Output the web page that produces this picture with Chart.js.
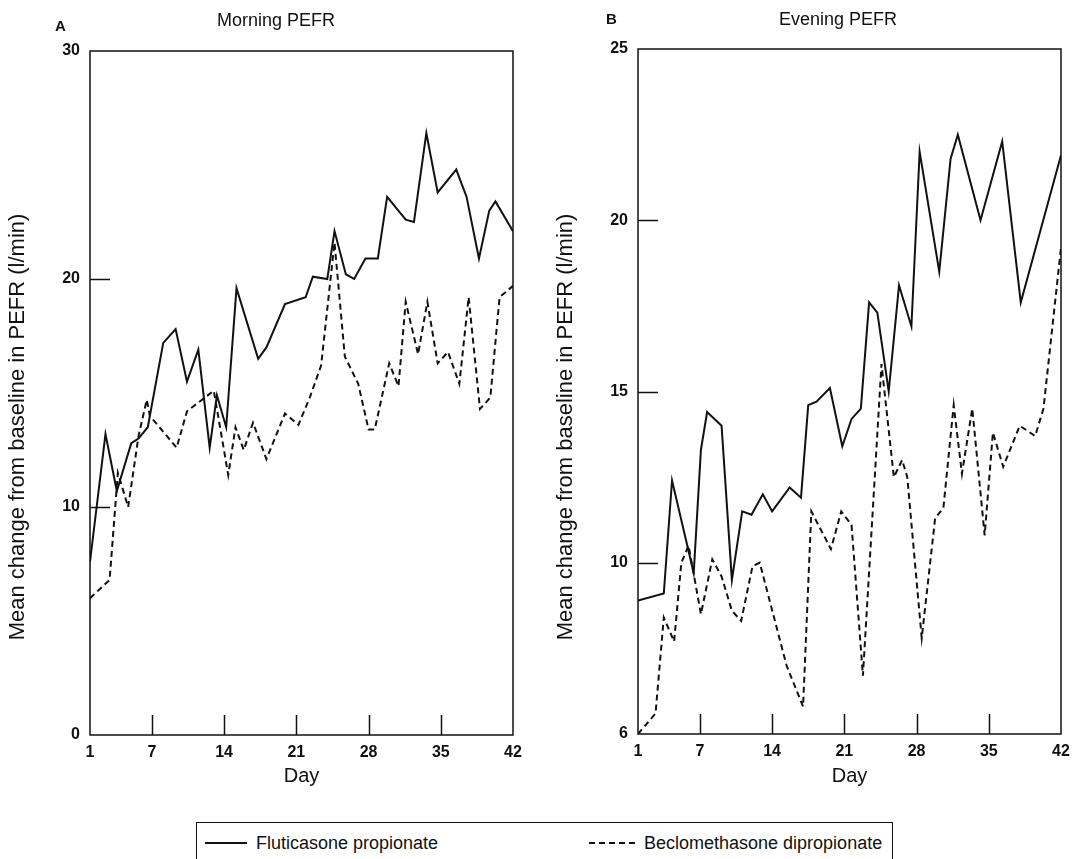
<!DOCTYPE html>
<html>
<head>
<meta charset="utf-8">
<script src="https://cdn.jsdelivr.net/npm/chart.js@4.4.1/dist/chart.umd.min.js"></script>
<style>
  html, body { margin: 0; padding: 0; background: #fff; }
  body { width: 1072px; height: 859px; overflow: hidden; position: relative;
         font-family: "Liberation Sans", Arial, sans-serif; color: #111; }
  canvas { position: absolute; top: 0; }
  #chartA { left: 0; }
  #chartB { left: 548px; }
  .legend { position: absolute; left: 196px; top: 822px; width: 697px; height: 60px;
            border: 1.5px solid #111; box-sizing: border-box; }
  .legend .item { position: absolute; top: 10px; font-size: 18px; line-height: 20px; white-space: nowrap; }
  .legend .sample { display: inline-block; vertical-align: middle; margin-right: 9px; margin-top: -3px; }
  .solid { width: 42px; border-top: 2px solid #111; }
  .dashed { width: 46px; border-top: 2px dashed #111; }
</style>
</head>
<body>
<canvas id="chartA" width="536" height="800"></canvas>
<canvas id="chartB" width="530" height="800"></canvas>
<div class="legend">
  <div class="item" style="left:8px"><span class="sample solid"></span>Fluticasone propionate</div>
  <div class="item" style="left:392px"><span class="sample dashed"></span>Beclomethasone dipropionate</div>
</div>
<script>
// Days and values (one array per series)
const dayTicks = [1, 7, 14, 21, 28, 35, 42];
const morningTicks = [0, 10, 20, 30];
const eveningTicks = [5, 10, 15, 20, 25];
const eveningTickLabels = ['6', '10', '15', '20', '25'];

// A: morning PEFR
const fpMorningDays = [1, 2.5, 3.6, 5.0, 5.7, 6.6, 8.1, 9.3, 10.4, 11.5, 12.6, 13.3, 14.2, 15.2, 17.3, 18.1, 19.9, 21.9,
  22.6, 24.0, 24.7, 25.8, 26.6, 27.7, 28.9, 29.8, 31.6, 32.4, 33.6, 34.7, 36.5, 37.5, 38.7, 39.7, 40.3, 42];
const fpMorning = [7.6, 13.2, 10.7, 12.8, 13.0, 13.5, 17.2, 17.8, 15.5, 16.9, 12.6, 14.9, 13.5, 19.6, 16.5, 17.0, 18.9, 19.2,
  20.1, 20.0, 22.1, 20.2, 20.0, 20.9, 20.9, 23.6, 22.6, 22.5, 26.4, 23.8, 24.8, 23.6, 20.9, 23.0, 23.4, 22.1];
const bdpMorningDays = [1, 2.9, 3.7, 4.7, 5.7, 6.5, 6.8, 9.4, 10.4, 13.0, 14.4, 15.1, 15.9, 16.8, 18.1, 19.9, 21.2, 22.3,
  23.4, 24.7, 25.7, 27.0, 28.0, 28.6, 30.0, 30.9, 31.6, 32.8, 33.7, 34.7, 35.7, 36.8, 37.7, 38.8, 39.8, 40.7, 42];
const bdpMorning = [6.0, 6.8, 11.5, 10.0, 13.1, 14.7, 14.0, 12.6, 14.2, 15.1, 11.4, 13.5, 12.5, 13.7, 12.1, 14.1, 13.6, 14.8,
  16.2, 21.6, 16.6, 15.4, 13.4, 13.4, 16.3, 15.3, 19.0, 16.7, 19.0, 16.3, 16.8, 15.4, 19.2, 14.3, 14.8, 19.2, 19.7];

// B: evening PEFR
const fpEveningDays = [1, 3.5, 4.3, 6.4, 7.1, 7.7, 9.1, 10.1, 11.1, 12.0, 13.1, 14.0, 15.7, 16.8, 17.5, 18.3, 19.6,
  20.8, 21.7, 22.6, 23.4, 24.2, 25.3, 26.3, 27.5, 28.3, 30.2, 31.3, 32.0, 34.2, 36.3, 38.1, 42];
const fpEvening = [8.9, 9.1, 12.4, 9.7, 13.3, 14.4, 14.0, 9.5, 11.5, 11.4, 12.0, 11.5, 12.2, 11.9, 14.6, 14.7, 15.1,
  13.4, 14.2, 14.5, 17.6, 17.3, 15.0, 18.1, 16.9, 22.0, 18.5, 21.8, 22.5, 20.0, 22.3, 17.6, 21.9];
const bdpEveningDays = [1, 2.7, 3.5, 4.5, 5.2, 5.9, 7.1, 8.2, 9.1, 10.1, 11.0, 12.1, 12.8, 15.4, 17.0, 17.8, 19.7, 20.7,
  21.7, 22.8, 24.6, 25.8, 26.6, 27.1, 28.5, 29.8, 30.6, 31.6, 32.4, 33.4, 34.6, 35.4, 36.4, 38.0, 39.5, 40.3, 42];
const bdpEvening = [5.0, 5.6, 8.4, 7.7, 10.0, 10.5, 8.5, 10.1, 9.6, 8.6, 8.3, 9.9, 10.0, 7.0, 5.8, 11.5, 10.4, 11.5,
  11.1, 6.7, 15.8, 12.5, 13.0, 12.5, 7.8, 11.3, 11.6, 14.6, 12.6, 14.5, 10.8, 13.8, 12.8, 14.0, 13.7, 14.5, 19.2];

const INK = '#111';
const FONT = "'Liberation Sans', Arial, sans-serif";
const Y_TITLE = 'Mean change from baseline in PEFR (l/min)';

function pts(days, vals) {
  return days.map((d, i) => ({ x: d, y: vals[i] }));
}

// box round the plot area plus the short inward tick marks
const frameTicks = {
  id: 'frameTicks',
  afterDatasetsDraw(chart, args, opts) {
    const { ctx, chartArea: a, scales: { x, y } } = chart;
    ctx.save();
    ctx.strokeStyle = INK;
    ctx.lineWidth = 1.5;
    ctx.strokeRect(a.left, a.top, a.right - a.left, a.bottom - a.top);
    ctx.beginPath();
    x.ticks.forEach(t => {
      if (t.value <= x.min || t.value >= x.max) return;
      const px = Math.round(x.getPixelForValue(t.value)) + 0.5;
      ctx.moveTo(px, a.bottom);
      ctx.lineTo(px, a.bottom - opts.len);
    });
    y.ticks.forEach(t => {
      if (t.value <= y.min || t.value >= y.max) return;
      const py = Math.round(y.getPixelForValue(t.value)) + 0.5;
      ctx.moveTo(a.left, py);
      ctx.lineTo(a.left + opts.len, py);
    });
    ctx.stroke();
    ctx.restore();
  }
};

// panel letter, heading and the rotated y title (sits low, like the original)
const panelTitle = {
  id: 'panelTitle',
  afterDraw(chart, args, opts) {
    const { ctx } = chart;
    ctx.save();
    ctx.fillStyle = INK;
    ctx.textBaseline = 'middle';
    ctx.font = 'bold 15px ' + FONT;
    ctx.textAlign = 'left';
    ctx.fillText(opts.letter, opts.letterX, opts.letterY);
    ctx.font = '18px ' + FONT;
    ctx.textAlign = 'center';
    ctx.fillText(opts.text, opts.textX, opts.textY);
    ctx.translate(opts.yTitleX, opts.yTitleY);
    ctx.rotate(-Math.PI / 2);
    ctx.font = '22px ' + FONT;
    ctx.fillText(Y_TITLE, 0, 0);
    ctx.restore();
  }
};

function makeChart(id, o) {
  return new Chart(document.getElementById(id), {
    type: 'line',
    data: {
      datasets: [
        { label: 'Fluticasone propionate', data: o.fp, borderColor: INK, borderWidth: 2,
          pointRadius: 0, tension: 0, fill: false },
        { label: 'Beclomethasone dipropionate', data: o.bdp, borderColor: INK, borderWidth: 2,
          borderDash: [6, 4], pointRadius: 0, tension: 0, fill: false }
      ]
    },
    options: {
      responsive: false,
      animation: false,
      layout: { padding: { top: o.top, right: o.right, left: 0, bottom: 0 } },
      plugins: {
        legend: { display: false },
        tooltip: { enabled: false },
        frameTicks: { len: 20 },
        panelTitle: o.title
      },
      scales: {
        x: {
          type: 'linear', min: 1, max: 42,
          afterBuildTicks: s => { s.ticks = dayTicks.map(v => ({ value: v })); },
          afterFit: s => { s.height = o.xHeight; },
          grid: { display: false, drawTicks: false },
          border: { display: false },
          ticks: { color: INK, font: { family: FONT, size: 16, weight: 'bold' }, padding: 8,
                   maxRotation: 0, autoSkip: false },
          title: { display: true, text: 'Day', color: INK, font: { family: FONT, size: 20 },
                   padding: { top: 0, bottom: 12 } }
        },
        y: {
          type: 'linear', min: o.yTicks[0], max: o.yTicks[o.yTicks.length - 1],
          afterBuildTicks: s => { s.ticks = o.yTicks.map(v => ({ value: v })); },
          afterFit: s => { s.width = 90; },
          grid: { display: false, drawTicks: false },
          border: { display: false },
          ticks: { color: INK, font: { family: FONT, size: 16, weight: 'bold' }, padding: 10,
                   callback: (v, i) => o.yLabels[i] },
          title: { display: false }
        }
      }
    },
    plugins: [frameTicks, panelTitle]
  });
}

makeChart('chartA', {
  fp: pts(fpMorningDays, fpMorning),
  bdp: pts(bdpMorningDays, bdpMorning),
  yTicks: morningTicks,
  yLabels: morningTicks.map(String),
  top: 51, right: 23, xHeight: 65,
  title: { letter: 'A', letterX: 55, letterY: 27, text: 'Morning PEFR', textX: 276, textY: 21,
           yTitleX: 18, yTitleY: 427 }
});

makeChart('chartB', {
  fp: pts(fpEveningDays, fpEvening),
  bdp: pts(bdpEveningDays, bdpEvening),
  yTicks: eveningTicks,
  yLabels: eveningTickLabels,
  top: 49, right: 17, xHeight: 66,
  title: { letter: 'B', letterX: 58, letterY: 20, text: 'Evening PEFR', textX: 290, textY: 20,
           yTitleX: 18, yTitleY: 427 }
});
</script>
</body>
</html>
